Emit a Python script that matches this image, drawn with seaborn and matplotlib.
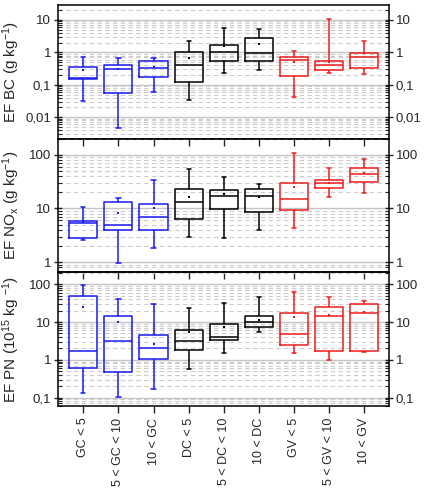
import numpy as np
import pandas as pd
import seaborn as sns
import matplotlib.pyplot as plt
from matplotlib.ticker import LogLocator, FuncFormatter, NullFormatter

sns.set_style('ticks')
plt.rcParams['font.family'] = ['Liberation Sans', 'DejaVu Sans']
plt.rcParams['mathtext.default'] = 'regular'

cats = ['GC < 5', '5 < GC < 10', '10 < GC',
        'DC < 5', '5 < DC < 10', '10 < DC',
        'GV < 5', '5 < GV < 10', '10 < GV']
colors = ['#1a1aee'] * 3 + ['#000000'] * 3 + ['#ee1c1c'] * 3

# EF BC (g/kg)
bc_lo = [0.032, 0.0047, 0.058, 0.033, 0.23, 0.28, 0.042, 0.23, 0.21]
bc_q1 = [0.146, 0.057, 0.176, 0.123, 0.54, 0.54, 0.19, 0.28, 0.33]
bc_med = [0.16, 0.30, 0.34, 0.40, 1.0, 0.93, 0.58, 0.40, 0.70]
bc_q3 = [0.36, 0.40, 0.54, 1.05, 1.7, 2.7, 0.70, 0.55, 0.93]
bc_hi = [0.73, 0.68, 0.65, 2.2, 5.8, 5.3, 1.1, 10.8, 2.2]
bc_mean = [0.28, 0.30, 0.36, 0.65, 1.55, 1.8, 0.50, 0.51, 0.98]

# EF NOx (g/kg)
nox_lo = [2.55, 0.95, 1.86, 3.0, 2.86, 3.9, 4.4, 16.5, 19.7]
nox_q1 = [2.86, 3.9, 3.9, 6.3, 9.7, 8.5, 9.3, 23.7, 30.7]
nox_med = [5.4, 5.0, 6.8, 13.0, 17.0, 17.3, 15.2, 30.0, 44.0]
nox_q3 = [5.9, 13.3, 12.2, 23.0, 22.0, 23.0, 30.0, 34.0, 57.0]
nox_hi = [10.7, 16.0, 33.5, 54.0, 39.0, 29.0, 110.0, 56.0, 83.0]
nox_mean = [5.6, 8.1, 10.1, 16.5, 18.3, 16.5, 24.8, 30.0, 46.6]

# EF PN (1e15 / kg)
pn_lo = [0.135, 0.102, 0.167, 0.56, 1.52, 5.5, 1.55, 1.0, 1.6]
pn_q1 = [0.61, 0.48, 1.08, 1.78, 3.4, 7.2, 2.4, 1.75, 1.75]
pn_med = [1.75, 3.1, 2.0, 3.2, 4.1, 9.8, 4.8, 14.4, 17.0]
pn_q3 = [49.0, 14.4, 4.5, 6.2, 8.7, 14.8, 17.0, 24.6, 29.5]
pn_hi = [96.0, 40.0, 31.0, 24.0, 33.0, 47.0, 63.0, 45.0, 37.0]
pn_mean = [24.6, 10.0, 2.6, 5.5, 7.2, 11.4, 13.4, 15.4, 19.0]

panels = [
    ([bc_lo, bc_q1, bc_med, bc_q3, bc_hi], bc_mean, (0.0022, 29), 'EF BC (g kg$^{-1}$)'),
    ([nox_lo, nox_q1, nox_med, nox_q3, nox_hi], nox_mean, (0.65, 200), 'EF NO$_x$ (g kg$^{-1}$)'),
    ([pn_lo, pn_q1, pn_med, pn_q3, pn_hi], pn_mean, (0.06, 210), 'EF PN (10$^{15}$ kg $^{-1}$)'),
]

fig, axes = plt.subplots(3, 1, figsize=(4.33, 4.92), dpi=100, sharex=True)
fig.subplots_adjust(left=0.134, right=0.898, top=0.99, bottom=0.175, hspace=0)

comma = FuncFormatter(lambda v, pos: f'{v:g}'.replace('.', ','))
pal = dict(zip(cats, colors))

for ax, (five, means, ylim, label) in zip(axes, panels):
    ax.set_facecolor('none')
    # each box drawn from its five-number summary (min, q1, median, q3, max)
    rows = []
    for i, c in enumerate(cats):
        for arr in five:
            rows.append((c, arr[i]))
    df = pd.DataFrame(rows, columns=['cat', 'val'])
    sns.boxplot(data=df, x='cat', y='val', hue='cat', order=cats, hue_order=cats,
                palette=pal, fill=False, whis=(0, 100), width=0.8, linewidth=1.1,
                log_scale=True, capwidths=0.12, showfliers=False, legend=False, ax=ax)
    sns.stripplot(x=cats, y=means, hue=cats, order=cats, hue_order=cats, palette=pal,
                  jitter=False, marker='s', size=2, linewidth=0, legend=False, ax=ax)
    ax.set_yscale('log')
    ax.set_ylim(*ylim)
    ax.set_xlim(-0.72, 8.7)
    ax.yaxis.set_major_locator(LogLocator(base=10, numticks=12))
    ax.yaxis.set_minor_locator(LogLocator(base=10, subs=np.arange(2, 10), numticks=12))
    ax.yaxis.set_major_formatter(comma)
    ax.yaxis.set_minor_formatter(NullFormatter())
    ax.grid(which='major', axis='y', color='#c4c4c4', lw=1, ls='-')
    ax.grid(which='minor', axis='y', color='#cccccc', lw=0.8, ls=(0, (4, 3)))
    ax.grid(False, axis='x')
    ax.set_axisbelow(True)
    ax.tick_params(axis='y', which='major', direction='inout', length=6, width=1,
                   left=True, right=True, labelleft=True, labelright=True, labelsize=9.5, pad=2)
    ax.tick_params(axis='y', which='minor', direction='in', length=3, width=0.8,
                   left=True, right=True)
    ax.tick_params(axis='x', which='major', direction='out', length=5, width=1,
                   bottom=True, top=False)
    ax.set_ylabel(label, fontsize=11, labelpad=2)
    ax.set_xlabel('')
    for s in ax.spines.values():
        s.set_color('black')
        s.set_linewidth(1.1)

axes[-1].set_xticks(range(len(cats)))
axes[-1].set_xticklabels(cats, rotation=90, fontsize=9, va='top', ha='center')
fig.align_ylabels(axes)

plt.savefig('out.png', dpi=100)
